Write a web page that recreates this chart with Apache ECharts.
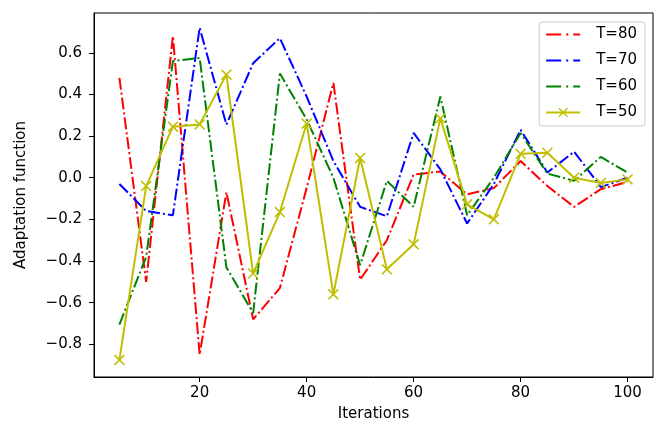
<!DOCTYPE html>
<html>
  <head>
    <meta charset="UTF-8" />
    <title>Adaptation function</title>
    <script type="text/javascript" src="https://cdn.jsdelivr.net/npm/echarts@6/dist/echarts.min.js"></script>
  </head>

  <body style="margin: 0">
    <div id="chart" style="height: 431px; width: 657px"></div>
    <script>
      var iterations = [5, 10, 15, 20, 25, 30, 35, 40, 45, 50, 55, 60, 65, 70, 75, 80, 85, 90, 95, 100];
      var t80 = [0.48, -0.5, 0.68, -0.85, -0.07, -0.68, -0.53, -0.05, 0.455, -0.49, -0.3, 0.015, 0.03, -0.08, -0.05, 0.08, -0.04, -0.14, -0.055, -0.02];
      var t70 = [-0.03, -0.16, -0.18, 0.72, 0.255, 0.55, 0.67, 0.39, 0.08, -0.14, -0.185, 0.215, 0.04, -0.22, -0.03, 0.23, 0.025, 0.125, -0.045, 0.0];
      var t60 = [-0.705, -0.38, 0.56, 0.575, -0.43, -0.65, 0.5, 0.28, 0.0, -0.42, -0.015, -0.14, 0.39, -0.18, 0.0, 0.215, 0.02, -0.015, 0.1, 0.024];
      var t50 = [-0.875, -0.04, 0.245, 0.256, 0.495, -0.46, -0.165, 0.26, -0.56, 0.095, -0.44, -0.32, 0.285, -0.128, -0.2, 0.115, 0.12, 0.0, -0.025, -0.008];
      var seriesNames = ["T=80", "T=70", "T=60", "T=50"];
      var xTicks = [20, 40, 60, 80, 100];
      var yTicks = [-0.8, -0.6, -0.4, -0.2, 0.0, 0.2, 0.4, 0.6];

      function pairs(ys) {
        var out = [];
        for (var i = 0; i < iterations.length; i++) {
          out.push([iterations[i], ys[i]]);
        }
        return out;
      }

      var font = "DejaVu Sans";
      var dashDot = [12, 3, 2, 3];
      var xMark = "path://M0,1L1,0L5,4L9,0L10,1L6,5L10,9L9,10L5,6L1,10L0,9L4,5Z";

      function dashSeries(name, ys, color) {
        return {
          name: name,
          type: "line",
          data: pairs(ys),
          symbol: "none",
          lineStyle: { color: color, width: 2, type: dashDot },
          itemStyle: { color: color },
        };
      }

      // legend entries: dash-dot sample without the default circle
      var legendData = seriesNames.map(function (n, i) {
        if (i === 3) return { name: n };
        return {
          name: n,
          itemStyle: { opacity: 0 },
          lineStyle: { type: [15, 5, 2, 5], width: 2 },
        };
      });

      var option = {
        animation: false,
        backgroundColor: "#ffffff",
        textStyle: { fontFamily: font },
        grid: {
          left: 94,
          right: 4,
          top: 13,
          bottom: 54,
          show: true,
          borderColor: "#000",
          borderWidth: 1,
        },
        legend: {
          orient: "vertical",
          right: 12,
          top: 22,
          padding: [5, 8, 6, 6],
          itemWidth: 34,
          itemHeight: 12,
          itemGap: 11,
          borderColor: "#cccccc",
          borderWidth: 1,
          borderRadius: 3,
          textStyle: { fontFamily: font, fontSize: 15, color: "#000", padding: [0, 0, 0, 11] },
          data: legendData,
        },
        xAxis: {
          type: "value",
          min: 0.25,
          max: 104.75,
          name: "Iterations",
          nameLocation: "middle",
          nameGap: 30,
          nameTextStyle: { fontFamily: font, fontSize: 15, color: "#000" },
          axisLine: { show: true, onZero: false, lineStyle: { color: "#000" } },
          axisTick: { show: true, length: 5, inside: false, customValues: xTicks, lineStyle: { color: "#000" } },
          axisLabel: { customValues: xTicks, margin: 9, fontFamily: font, fontSize: 15, color: "#000" },
          splitLine: { show: false },
        },
        yAxis: {
          type: "value",
          min: -0.957,
          max: 0.791,
          name: "Adaptation function",
          nameLocation: "middle",
          nameGap: 65,
          nameTextStyle: { fontFamily: font, fontSize: 15, color: "#000" },
          axisLine: { show: true, onZero: false, lineStyle: { color: "#000" } },
          axisTick: { show: true, length: 5, inside: false, customValues: yTicks, lineStyle: { color: "#000" } },
          axisLabel: {
            customValues: yTicks,
            margin: 12,
            fontFamily: font,
            fontSize: 15,
            color: "#000",
            formatter: function (v) {
              return v.toFixed(1).replace("-", "\u2212");
            },
          },
          splitLine: { show: false },
        },
        series: [
          dashSeries(seriesNames[0], t80, "#ff0000"),
          dashSeries(seriesNames[1], t70, "#0000ff"),
          dashSeries(seriesNames[2], t60, "#008000"),
          {
            name: seriesNames[3],
            type: "line",
            data: pairs(t50),
            symbol: xMark,
            symbolSize: 11,
            showSymbol: true,
            lineStyle: { color: "#bfbf00", width: 2 },
            itemStyle: { color: "#bfbf00" },
          },
        ],
      };

      var myChart = echarts.init(document.getElementById("chart"));
      myChart.setOption(option);
    </script>
  </body>
</html>
